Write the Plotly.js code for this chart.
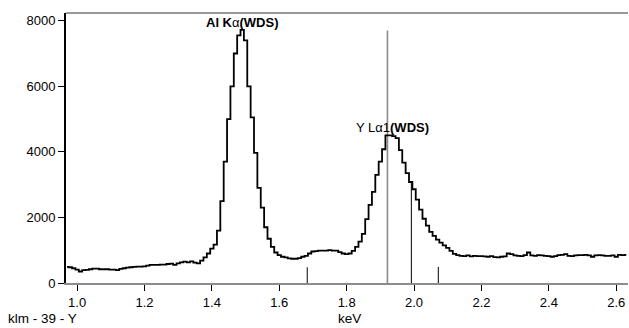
<!DOCTYPE html>
<html>
<head>
<meta charset="utf-8">
<script src="https://cdn.plot.ly/plotly-3.0.1.min.js"></script>
<style>html,body{margin:0;padding:0;background:#fff;}#chart{width:629px;height:328px;}</style>
</head>
<body>
<div id="chart"></div>
<script>
// Channel energies (keV)
const energy = [
0.97,0.98,0.99,1.00,1.01,1.02,1.03,1.04,1.05,1.06,1.07,1.08,1.09,1.10,1.11,1.12,1.13,1.14,1.15,1.16,
1.17,1.18,1.19,1.20,1.21,1.22,1.23,1.24,1.25,1.26,1.27,1.28,1.29,1.30,1.31,1.32,1.33,1.34,1.35,1.36,
1.37,1.38,1.39,1.40,1.41,1.42,1.43,1.44,1.45,1.46,1.47,1.48,1.49,1.50,1.51,1.52,1.53,1.54,1.55,1.56,
1.57,1.58,1.59,1.60,1.61,1.62,1.63,1.64,1.65,1.66,1.67,1.68,1.69,1.70,1.71,1.72,1.73,1.74,1.75,1.76,
1.77,1.78,1.79,1.80,1.81,1.82,1.83,1.84,1.85,1.86,1.87,1.88,1.89,1.90,1.91,1.92,1.93,1.94,1.95,1.96,
1.97,1.98,1.99,2.00,2.01,2.02,2.03,2.04,2.05,2.06,2.07,2.08,2.09,2.10,2.11,2.12,2.13,2.14,2.15,2.16,
2.17,2.18,2.19,2.20,2.21,2.22,2.23,2.24,2.25,2.26,2.27,2.28,2.29,2.30,2.31,2.32,2.33,2.34,2.35,2.36,
2.37,2.38,2.39,2.40,2.41,2.42,2.43,2.44,2.45,2.46,2.47,2.48,2.49,2.50,2.51,2.52,2.53,2.54,2.55,2.56,
2.57,2.58,2.59,2.60,2.61,2.62,2.63
];
// Counts per channel
const counts = [
490,480,450,410,350,390,400,420,440,440,420,420,420,410,410,390,430,450,470,480,
490,500,500,510,530,550,550,550,560,560,580,590,550,600,630,650,630,660,620,600,
680,780,900,1050,1170,1600,2500,3700,5000,6000,7000,7550,7720,7400,6000,5050,3970,2900,2300,1700,
1350,1100,930,850,800,780,750,740,740,760,800,830,900,960,970,990,990,990,1000,990,
990,940,900,880,900,980,1100,1260,1500,1950,2380,2780,3300,3700,4080,4500,4500,4480,4420,4050,
3670,3350,3080,2860,2545,2240,1960,1750,1560,1440,1320,1230,1150,1070,980,890,850,830,820,840,
810,830,820,820,810,800,820,790,780,800,810,900,880,840,830,820,850,930,840,830,
850,840,830,820,800,820,850,860,880,830,820,840,850,850,860,840,800,840,850,840,
830,830,840,800,860,850,860
];
// Line markers (keV, height)
const markerEnergy = [1.683, 1.921, 1.992, 2.072];
const markerHeight = [480, 7700, 3050, 490];
const markerColor = ['#000000', '#8a8a8a', '#000000', '#000000'];
const markerWidth = [1, 1.6, 1, 1];
// Peak labels
const peakLabels = ['<b>Al K</b>α<b>(WDS)</b>', 'Y Lα1<b>(WDS)</b>'];
const peakLabelX = [1.49, 1.935];
const peakLabelY = [7950, 4740];
const xTicks = [1.0, 1.2, 1.4, 1.6, 1.8, 2.0, 2.2, 2.4, 2.6];
const xTickText = ['1.0','1.2','1.4','1.6','1.8','2.0','2.2','2.4','2.6'];
const yTicks = [0, 2000, 4000, 6000, 8000];

const FONT = 'Liberation Sans, Arial, Helvetica, sans-serif';
const traces = [];
markerEnergy.forEach((e, i) => {
  traces.push({x:[e, e], y:[0, markerHeight[i]], mode:'lines', type:'scatter',
    line:{color:markerColor[i], width:markerWidth[i]}, hoverinfo:'skip', showlegend:false});
});
traces.push({x: energy, y: counts, mode:'lines', type:'scatter',
  line:{color:'#000000', width:1.8, shape:'hvh'}, showlegend:false});

const annotations = peakLabels.map((t, i) => ({
  x: peakLabelX[i], y: peakLabelY[i], xref:'x', yref:'y', text:t, showarrow:false,
  font:{family:FONT, size:13, color:'#000'}, xanchor:'center', yanchor:'middle'
}));
annotations.push({x:-0.105, y:-0.132, xref:'paper', yref:'paper', text:'klm - 39 - Y', showarrow:false,
  font:{family:FONT, size:13.5, color:'#000'}, xanchor:'left', yanchor:'middle', borderpad:0});
annotations.push({x:0.505, y:-0.132, xref:'paper', yref:'paper', text:'keV', showarrow:false,
  font:{family:FONT, size:13.5, color:'#000'}, xanchor:'center', yanchor:'middle', borderpad:0});

const layout = {
  width:629, height:328,
  margin:{l:66, r:1, t:13, b:45},
  paper_bgcolor:'#fff', plot_bgcolor:'#fff',
  font:{family:FONT, size:13, color:'#000'},
  showlegend:false,
  xaxis:{range:[0.967, 2.635], tickvals:xTicks, ticktext:xTickText, ticks:'outside', ticklen:6,
    tickcolor:'#000', tickwidth:1, showgrid:false, zeroline:false, showline:true,
    linecolor:'#8c8c8c', linewidth:2, tickfont:{family:FONT, size:13}},
  yaxis:{range:[0, 8235], tickvals:yTicks, ticks:'outside', ticklen:6, tickcolor:'#000', tickwidth:1,
    showgrid:false, zeroline:false, showline:true, linecolor:'#000', linewidth:2,
    tickfont:{family:FONT, size:13}},
  shapes:[{type:'line', xref:'paper', yref:'paper', x0:0, x1:1, y0:1, y1:1,
    line:{color:'#333', width:1}}],
  annotations: annotations
};
Plotly.newPlot('chart', traces, layout, {displayModeBar:false, staticPlot:true});
</script>
</body>
</html>
